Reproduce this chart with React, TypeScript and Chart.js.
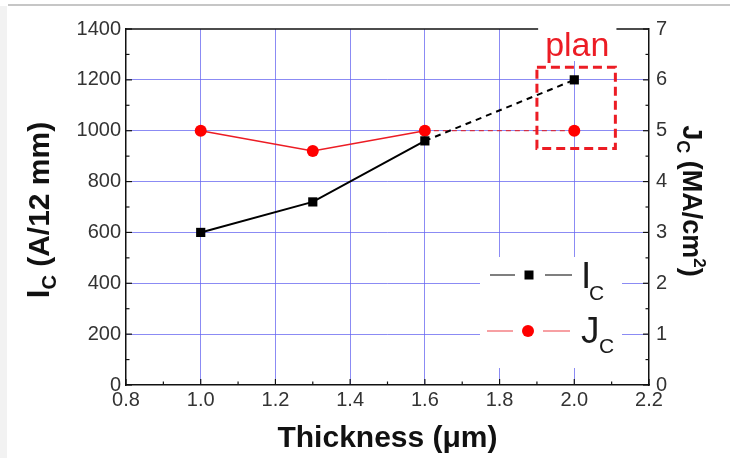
import React, { useEffect, useRef } from "react";
import { Chart, registerables } from "chart.js";

Chart.register(...registerables);

// ---- data ----
const thickness = [1.0, 1.3, 1.6];
const icValues = [600, 720, 960];
const jcValues = [5.0, 4.6, 5.0];
const planThickness = [1.6, 2.0];
const icPlan = [960, 1200];
const jcPlan = [5.0, 5.0];

// ---- axes ----
const xRange = [0.8, 2.2];
const xStep = 0.2;
const icRange = [0, 1400];
const icStep = 200;
const jcRange = [0, 7];
const jcStep = 1;

// ---- annotation ----
const planLabel = "plan";
const planBoxX = [1.9, 2.11];
const planBoxY = [930, 1250];

const FONT = '"Liberation Sans", Arial, Helvetica, sans-serif';
const GRID = "rgba(100,100,240,0.75)";
const RED = "#ec1c24";

type Part = { t: string; size: number; bold?: boolean; dy?: number };

function drawRich(ctx: CanvasRenderingContext2D, parts: Part[], cx: number, cy: number, rot: number, color: string) {
  ctx.save();
  let w = 0;
  for (const p of parts) {
    ctx.font = `${p.bold ? "bold " : ""}${p.size}px ${FONT}`;
    w += ctx.measureText(p.t).width;
  }
  ctx.translate(cx, cy);
  ctx.rotate(rot);
  ctx.fillStyle = color;
  ctx.textBaseline = "alphabetic";
  ctx.textAlign = "left";
  const base = parts[0].size * 0.36;
  let x = -w / 2;
  for (const p of parts) {
    ctx.font = `${p.bold ? "bold " : ""}${p.size}px ${FONT}`;
    ctx.fillText(p.t, x, base + (p.dy || 0));
    x += ctx.measureText(p.t).width;
  }
  ctx.restore();
}

function line(ctx: CanvasRenderingContext2D, x1: number, y1: number, x2: number, y2: number) {
  ctx.beginPath();
  ctx.moveTo(x1, y1);
  ctx.lineTo(x2, y2);
  ctx.stroke();
}

const decor = {
  id: "decor",
  beforeDraw(chart: any) {
    const ctx = chart.ctx as CanvasRenderingContext2D;
    ctx.save();
    ctx.fillStyle = "#ffffff";
    ctx.fillRect(0, 0, chart.width, chart.height);
    ctx.fillStyle = "#f2f2f2";
    ctx.fillRect(0, 6, 7, chart.height);
    ctx.strokeStyle = "#c6c6c6";
    ctx.lineWidth = 2;
    line(ctx, 8, 5, chart.width, 5);
    ctx.restore();
  },
  beforeDatasetsDraw(chart: any) {
    const ctx = chart.ctx as CanvasRenderingContext2D;
    const ca = chart.chartArea;
    const xs = chart.scales.x;
    ctx.save();
    // top frame line
    ctx.strokeStyle = "#111";
    ctx.lineWidth = 1.5;
    line(ctx, ca.left, ca.top, ca.right, ca.top);
    // legend background
    ctx.fillStyle = "#fff";
    ctx.fillRect(ca.right - 169, ca.bottom - 128, 142, 111);
    // plan text background
    ctx.font = `34px ${FONT}`;
    const tw = ctx.measureText(planLabel).width;
    const px = xs.getPixelForValue(2.0) + 3;
    ctx.fillRect(px - tw / 2 - 7, ca.top - 8, tw + 14, 40);
    ctx.restore();
  },
  afterDatasetsDraw(chart: any) {
    const ctx = chart.ctx as CanvasRenderingContext2D;
    const ca = chart.chartArea;
    const xs = chart.scales.x;
    const ys = chart.scales.y;
    const y1 = chart.scales.y1;
    ctx.save();

    // plan box
    ctx.strokeStyle = RED;
    ctx.lineWidth = 3;
    ctx.setLineDash([9, 5]);
    const bx1 = xs.getPixelForValue(planBoxX[0]);
    const bx2 = xs.getPixelForValue(planBoxX[1]);
    const by1 = ys.getPixelForValue(planBoxY[1]);
    const by2 = ys.getPixelForValue(planBoxY[0]);
    ctx.strokeRect(bx1, by1, bx2 - bx1, by2 - by1);
    ctx.setLineDash([]);

    // plan text
    ctx.fillStyle = RED;
    ctx.font = `34px ${FONT}`;
    ctx.textAlign = "center";
    ctx.textBaseline = "alphabetic";
    ctx.fillText(planLabel, xs.getPixelForValue(2.0) + 3, ca.top + 27);

    // inward ticks
    ctx.strokeStyle = "#111";
    ctx.lineWidth = 1.2;
    const drawTicks = (scale: any, fn: (p: number, len: number) => void) => {
      const vals = scale.ticks.map((t: any) => t.value);
      for (let i = 0; i < vals.length; i++) {
        fn(scale.getPixelForValue(vals[i]), 6);
        if (i < vals.length - 1) fn(scale.getPixelForValue((vals[i] + vals[i + 1]) / 2), 3.5);
      }
    };
    drawTicks(xs, (p, l) => line(ctx, p, ca.bottom, p, ca.bottom - l));
    drawTicks(ys, (p, l) => line(ctx, ca.left, p, ca.left + l, p));
    drawTicks(y1, (p, l) => line(ctx, ca.right, p, ca.right - l, p));

    // legend
    const r1 = ca.bottom - 110;
    const r2 = ca.bottom - 54;
    const mx = ca.right - 120;
    ctx.strokeStyle = "#555";
    ctx.lineWidth = 1.5;
    line(ctx, ca.right - 159, r1, ca.right - 134, r1);
    line(ctx, ca.right - 104, r1, ca.right - 77, r1);
    ctx.fillStyle = "#000";
    ctx.fillRect(mx - 4.5, r1 - 4.5, 9, 9);
    ctx.strokeStyle = "rgba(236,28,36,0.7)";
    ctx.lineWidth = 1.2;
    line(ctx, ca.right - 162, r2, ca.right - 136, r2);
    line(ctx, ca.right - 106, r2, ca.right - 79, r2);
    ctx.fillStyle = "#ff0000";
    ctx.beginPath();
    ctx.arc(mx - 1, r2, 6, 0, Math.PI * 2);
    ctx.fill();

    ctx.fillStyle = "#1a1a1a";
    ctx.textAlign = "left";
    ctx.font = `37px ${FONT}`;
    ctx.fillText("I", ca.right - 68, r1 + 13);
    ctx.fillText("J", ca.right - 68, r2 + 12);
    ctx.font = `21px ${FONT}`;
    ctx.fillText("C", ca.right - 60, r1 + 25);
    ctx.fillText("C", ca.right - 50, r2 + 22);
    ctx.restore();
  },
  afterDraw(chart: any) {
    const ctx = chart.ctx as CanvasRenderingContext2D;
    const ca = chart.chartArea;
    drawRich(
      ctx,
      [{ t: "Thickness (\u03bcm)", size: 30, bold: true }],
      (ca.left + ca.right) / 2,
      ca.bottom + 51,
      0,
      "#111"
    );
    drawRich(
      ctx,
      [
        { t: "I", size: 31, bold: true },
        { t: "C", size: 20, bold: true, dy: 7 },
        { t: " (A/12 mm)", size: 30, bold: true },
      ],
      ca.left - 88,
      (ca.top + ca.bottom) / 2 + 3,
      -Math.PI / 2,
      "#111"
    );
    drawRich(
      ctx,
      [
        { t: "J", size: 27, bold: true },
        { t: "C", size: 18, bold: true, dy: 6 },
        { t: " (MA/cm", size: 27, bold: true },
        { t: "2", size: 17, bold: true, dy: -11 },
        { t: ")", size: 27, bold: true },
      ],
      ca.right + 44,
      (ca.top + ca.bottom) / 2 - 6,
      Math.PI / 2,
      "#111"
    );
  },
};

export default function App() {
  const ref = useRef<HTMLCanvasElement | null>(null);

  useEffect(() => {
    document.body.style.margin = "0";
    if (!ref.current) return;
    const tickFont = { family: FONT, size: 20 };
    const gridColor = (min: number, max: number) => (c: any) => {
      const v = c.tick ? c.tick.value : NaN;
      if (Math.abs(v - min) < 1e-6 || Math.abs(v - max) < 1e-6) return "rgba(0,0,0,0)";
      return GRID;
    };
    const chart = new Chart(ref.current, {
      type: "line",
      data: {
        datasets: [
          {
            label: "Ic",
            data: thickness.map((x, i) => ({ x, y: icValues[i] })),
            yAxisID: "y",
            borderColor: "#000",
            backgroundColor: "#000",
            pointBackgroundColor: "#000",
            pointBorderColor: "#000",
            borderWidth: 2,
            pointStyle: "rect",
            pointRadius: 6.5,
            pointBorderWidth: 0,
          },
          {
            label: "Ic plan",
            data: planThickness.map((x, i) => ({ x, y: icPlan[i] })),
            yAxisID: "y",
            borderColor: "#000",
            backgroundColor: "#000",
            pointBackgroundColor: "#000",
            borderWidth: 2,
            borderDash: [6, 5],
            pointStyle: "rect",
            pointRadius: [0, 6.5],
            pointBorderWidth: 0,
          },
          {
            label: "Jc",
            data: thickness.map((x, i) => ({ x, y: jcValues[i] })),
            yAxisID: "y1",
            borderColor: RED,
            backgroundColor: "#ff0000",
            pointBackgroundColor: "#ff0000",
            borderWidth: 1.6,
            pointStyle: "circle",
            pointRadius: 6,
            pointBorderWidth: 0,
          },
          {
            label: "Jc plan",
            data: planThickness.map((x, i) => ({ x, y: jcPlan[i] })),
            yAxisID: "y1",
            borderColor: "rgba(220,30,40,0.85)",
            backgroundColor: "#ff0000",
            pointBackgroundColor: "#ff0000",
            borderWidth: 1.2,
            borderDash: [5, 4],
            pointStyle: "circle",
            pointRadius: [0, 6],
            pointBorderWidth: 0,
          },
        ],
      },
      options: {
        responsive: false,
        maintainAspectRatio: false,
        animation: false,
        layout: { padding: { top: 29, left: 0, right: 0, bottom: 0 } },
        plugins: { legend: { display: false }, tooltip: { enabled: false } },
        scales: {
          x: {
            type: "linear",
            min: xRange[0],
            max: xRange[1],
            afterFit: (s: any) => {
              s.height = 73;
            },
            ticks: {
              stepSize: xStep,
              autoSkip: false,
              maxRotation: 0,
              padding: 3,
              color: "#333",
              font: tickFont,
              callback: (v: any) => Number(v).toFixed(1),
            },
            grid: { drawTicks: false, color: gridColor(xRange[0], xRange[1]), lineWidth: 1 },
            border: { display: true, color: "#111", width: 1.5 },
          },
          y: {
            type: "linear",
            position: "left",
            min: icRange[0],
            max: icRange[1],
            afterFit: (s: any) => {
              s.width = 126;
            },
            ticks: {
              stepSize: icStep,
              padding: 5,
              color: "#333",
              font: tickFont,
              callback: (v: any) => String(Math.round(Number(v))),
            },
            grid: { drawTicks: false, color: gridColor(icRange[0], icRange[1]), lineWidth: 1 },
            border: { display: true, color: "#111", width: 1.5 },
          },
          y1: {
            type: "linear",
            position: "right",
            min: jcRange[0],
            max: jcRange[1],
            afterFit: (s: any) => {
              s.width = 81;
            },
            ticks: {
              stepSize: jcStep,
              padding: 7,
              color: "#333",
              font: tickFont,
              callback: (v: any) => String(Math.round(Number(v))),
            },
            grid: { drawTicks: false, drawOnChartArea: false },
            border: { display: true, color: "#111", width: 1.5 },
          },
        },
      },
      plugins: [decor],
    } as any);
    return () => chart.destroy();
  }, []);

  return (
    <div style={{ width: 730, height: 458 }}>
      <canvas ref={ref} width={730} height={458} style={{ display: "block" }} />
    </div>
  );
}
